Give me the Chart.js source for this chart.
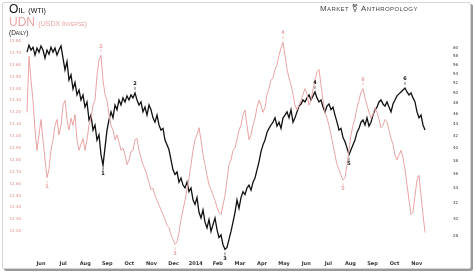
<!DOCTYPE html>
<html><head><meta charset="utf-8">
<script src="https://cdn.jsdelivr.net/npm/chart.js@4"></script>
<style>
html,body{margin:0;padding:0;background:#fff;}
#frame{position:absolute;left:2px;top:2px;width:467px;height:265px;border:1px solid #d6d6d6;border-radius:2px;box-shadow:2px 2px 0 #9a9a9a;background:#fff;}
#c{position:absolute;left:0;top:0;}
.t{position:absolute;font-family:"Liberation Sans","DejaVu Sans",sans-serif;font-variant:small-caps;white-space:nowrap;}
</style></head>
<body>
<div id="frame"></div>
<canvas id="c" width="474" height="273"></canvas>
<div class="t" style="left:9px;top:2px;font-size:12px;color:#111;">Oil <span style="font-size:7px">(WTI)</span></div>
<div class="t" style="left:9px;top:15px;font-size:12px;color:#e9a3a3;">UDN <span style="font-size:7px">(USDX Inverse)</span></div>
<div class="t" style="left:9px;top:29px;font-size:6.5px;color:#222;">(Daily)</div>
<div class="t" style="left:320px;top:4px;font-size:8px;color:#444;letter-spacing:0.4px;">Market &#x26A7; Anthropology</div>
<script>
// Oil (WTI), right axis, one reading every sample step
const oilValues = [59.0,60.7,59.5,60.2,58.3,60.0,59.0,60.5,59.5,57.6,59.5,58.5,60.2,59.0,60.0,58.3,59.5,60.5,57.6,54.9,
56.8,52.7,53.8,50.8,52.2,49.6,50.6,48.6,49.6,47.2,48.2,44.8,45.7,43.0,43.9,41.3,42.2,38.9,37.3,40.0,
43.0,44.8,46.3,45.2,47.6,46.7,48.6,47.6,49.0,48.2,49.4,48.6,49.6,49.0,50.0,48.6,47.6,48.2,46.3,47.2,
45.7,47.6,46.7,45.2,44.4,45.7,43.9,43.0,43.3,41.3,40.5,39.7,38.1,36.6,35.9,36.3,34.8,35.4,34.4,34.0,
34.8,33.5,34.0,32.4,31.8,32.7,30.8,30.1,31.1,29.6,28.9,29.9,28.5,29.3,30.1,28.7,27.8,28.1,27.0,26.5,
26.7,27.6,28.5,29.6,30.8,32.4,31.3,32.7,33.5,33.1,34.0,34.4,33.7,34.8,35.4,36.6,37.8,39.4,40.5,41.3,
42.6,43.3,43.9,44.4,45.2,43.7,44.4,43.3,45.2,45.7,46.3,45.2,46.7,44.4,45.2,46.3,47.4,47.8,48.6,48.2,
49.0,49.6,48.6,49.4,50.2,49.0,48.2,48.6,47.2,46.3,47.4,47.8,46.7,47.2,45.7,44.4,43.0,43.3,41.7,41.0,
40.0,38.9,39.7,40.5,41.3,42.6,43.3,44.4,44.8,43.9,45.2,43.7,44.4,45.7,46.7,47.2,48.2,48.6,47.8,47.4,
48.2,47.2,46.3,47.8,48.6,49.4,49.8,50.2,50.6,51.0,50.2,49.6,50.0,49.0,48.2,46.3,45.2,45.7,43.9,43.0];
// UDN (USDX inverse), left axis
const udnValues = [13.20,13.67,13.47,13.30,13.05,12.88,13.01,13.14,12.97,12.80,12.65,12.72,12.88,12.97,13.09,13.14,13.01,13.09,13.26,13.30,
13.14,13.05,13.15,13.09,13.18,12.97,12.88,12.93,12.98,12.88,12.97,13.09,13.15,13.26,13.30,13.51,13.64,13.68,13.47,13.35,
13.30,13.18,13.09,13.05,12.97,13.01,12.95,12.88,12.90,12.84,12.76,12.80,12.87,12.88,12.97,12.98,12.88,12.82,12.76,12.72,
12.67,12.61,12.55,12.56,12.50,12.46,12.42,12.38,12.34,12.30,12.25,12.23,12.17,12.13,12.09,12.11,12.19,12.30,12.38,12.46,
12.55,12.65,12.76,12.88,12.97,13.01,13.07,12.97,12.84,12.76,12.67,12.59,12.55,12.50,12.46,12.40,12.36,12.34,12.42,12.50,
12.63,12.76,12.80,12.88,12.90,12.97,13.05,13.09,13.18,13.22,13.09,12.97,13.01,13.09,13.15,13.24,13.30,13.26,13.20,13.24,
13.35,13.40,13.47,13.49,13.56,13.60,13.68,13.74,13.79,13.68,13.56,13.49,13.43,13.35,13.26,13.22,13.26,13.30,13.35,13.40,
13.35,13.26,13.30,13.39,13.47,13.54,13.56,13.43,13.30,13.20,13.15,13.09,13.01,12.93,12.84,12.76,12.72,12.67,12.63,12.65,
12.76,12.88,13.01,13.09,13.15,13.24,13.30,13.37,13.40,13.32,13.26,13.20,13.15,13.18,13.24,13.20,13.14,13.07,13.09,13.14,
13.12,13.05,12.98,12.93,12.84,12.80,12.84,12.88,12.82,12.72,12.59,12.46,12.34,12.36,12.50,12.63,12.67,12.50,12.34,12.19];
// month tick labels (first at sample 7, then every 11.05 samples)
const monthLabels = ['Jun','Jul','Aug','Sep','Oct','Nov','Dec','2014','Feb','Mar','Apr','May','Jun','Jul','Aug','Sep','Oct','Nov'];
const firstMonthSample = 7, samplesPerMonth = 11.05;
const oilTicks = [28,30,32,34,36,38,40,42,44,46,48,50,52,54,56,58,60];
const udnTicks = [12.2,12.3,12.4,12.5,12.6,12.7,12.8,12.9,13.0,13.1,13.2,13.3,13.4,13.5,13.6,13.7,13.8];
// cycle labels: sample index, text, above(true)/below(false)
const oilCycles = [[38,'1',false],[54,'2',true],[99,'3',false],[144,'4',true],[161,'5',false],[189,'6',true]];
const udnCycles = [[10,'1',false],[37,'2',true],[74,'3',false],[128,'4',true],[158,'5',false],[168,'6',true]];

const BLACK='#111', PINK='#e9a3a3';
const toXY = arr => arr.map((v,i)=>({x:i,y:v}));

const cyclePlugin = {
  id:'cycles',
  afterDatasetsDraw(chart){
    const ctx=chart.ctx, xs=chart.scales.x;
    const draw=(list,vals,scale,color)=>{
      ctx.save();
      ctx.fillStyle=color; ctx.strokeStyle=color; ctx.lineWidth=0.6;
      ctx.font='bold 5px "DejaVu Sans"'; ctx.textAlign='center';
      list.forEach(([i,t,above])=>{
        const x=xs.getPixelForValue(i), y=scale.getPixelForValue(vals[i]);
        if(above){
          ctx.beginPath(); ctx.moveTo(x,y-3); ctx.lineTo(x,y-6); ctx.stroke();
          ctx.textBaseline='bottom'; ctx.fillText(t,x,y-6.5);
        } else {
          ctx.beginPath(); ctx.moveTo(x,y+3); ctx.lineTo(x,y+6); ctx.stroke();
          ctx.textBaseline='top'; ctx.fillText(t,x,y+6.5);
        }
      });
      ctx.restore();
    };
    draw(udnCycles,udnValues,chart.scales.yl,PINK);
    draw(oilCycles,oilValues,chart.scales.yr,BLACK);
  }
};

new Chart(document.getElementById('c'),{
  type:'line',
  data:{datasets:[
    {label:'UDN',data:toXY(udnValues),yAxisID:'yl',borderColor:PINK,borderWidth:1,pointRadius:0,tension:0},
    {label:'Oil',data:toXY(oilValues),yAxisID:'yr',borderColor:BLACK,borderWidth:1.3,pointRadius:0,tension:0}
  ]},
  options:{
    responsive:false,animation:false,
    layout:{padding:{top:35,bottom:4,left:0,right:0}},
    plugins:{legend:{display:false},tooltip:{enabled:false}},
    scales:{
      x:{type:'linear',min:-1,max:206.5,
        grid:{display:false,drawTicks:false},border:{display:false},
        afterFit(s){s.height=14;},
        afterBuildTicks(s){s.ticks=monthLabels.map((l,k)=>({value:firstMonthSample+samplesPerMonth*k}));},
        ticks:{autoSkip:false,maxRotation:0,padding:6,color:'#333',font:{size:5,weight:'bold',family:'DejaVu Sans'},
          callback:(v,idx)=>monthLabels[idx]}
      },
      yl:{type:'linear',position:'left',min:12.0,max:13.85,
        grid:{display:false,drawTicks:false},border:{display:false},
        afterFit(s){s.width=25;},
        afterBuildTicks(s){s.ticks=udnTicks.map(v=>({value:v}));},
        ticks:{autoSkip:false,padding:4,color:'#e08b8b',font:{size:4,family:'DejaVu Sans'},callback:v=>v.toFixed(2)}
      },
      yr:{type:'logarithmic',position:'right',min:25.9,max:63.25,
        grid:{display:false,drawTicks:false},border:{display:false},
        afterFit(s){s.width=34;},
        afterBuildTicks(s){s.ticks=oilTicks.map(v=>({value:v}));},
        ticks:{autoSkip:false,padding:13,color:'#333',font:{size:4,family:'DejaVu Sans'},callback:v=>String(v)}
      }
    }
  },
  plugins:[cyclePlugin]
});
</script>
</body></html>
